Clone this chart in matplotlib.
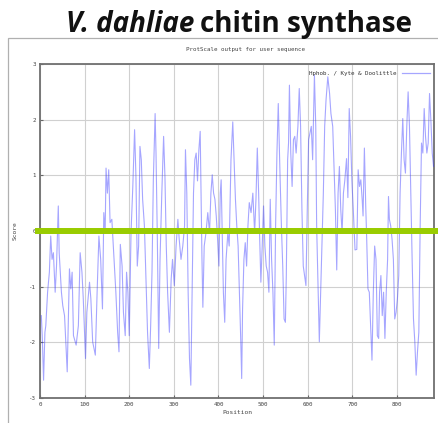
import matplotlib
matplotlib.use("Agg")
import matplotlib.pyplot as plt
from matplotlib.lines import Line2D
from matplotlib.patches import Rectangle
import matplotlib.transforms as mtransforms

# ---- data ----
positions = [3, 5, 8, 11, 13, 17, 21, 24, 27, 30, 34, 37, 41, 43, 48, 51, 55, 61, 66, 69,
             72, 75, 81, 86, 90, 94, 97, 102, 105, 111, 114, 118, 124, 128, 132, 136, 140, 143, 146, 148,
             151, 154, 157, 161, 166, 170, 174, 177, 180, 184, 187, 191, 194, 197, 200, 204, 208, 212, 215, 218,
             221, 224, 227, 230, 234, 238, 241, 245, 248, 251, 254, 258, 260, 263, 266, 269, 273, 277, 280, 283,
             286, 290, 294, 297, 301, 305, 309, 312, 316, 320, 324, 326, 329, 332, 335, 338, 341, 344, 347, 350,
             353, 356, 359, 363, 365, 368, 372, 376, 380, 383, 386, 389, 392, 395, 398, 401, 404, 406, 408, 411,
             414, 417, 421, 424, 428, 432, 435, 438, 441, 444, 447, 450, 452, 454, 457, 460, 463, 466, 469, 473,
             477, 481, 484, 487, 490, 492, 495, 498, 501, 504, 507, 510, 513, 516, 519, 522, 525, 528, 531, 534,
             538, 541, 544, 547, 550, 552, 555, 557, 559, 562, 565, 568, 571, 574, 578, 581, 584, 587, 590, 593,
             596, 599, 602, 605, 608, 611, 615, 618, 620, 623, 626, 629, 632, 635, 638, 641, 645, 649, 652, 656,
             659, 662, 665, 668, 671, 674, 677, 680, 683, 687, 690, 693, 696, 699, 702, 706, 710, 713, 716, 719,
             722, 724, 727, 730, 732, 735, 738, 741, 744, 747, 750, 753, 756, 759, 761, 764, 767, 770, 773, 776,
             779, 781, 783, 786, 789, 792, 795, 798, 801, 804, 807, 810, 813, 816, 819, 822, 825, 828, 831, 834,
             837, 840, 843, 846, 849, 852, 855, 858, 861, 864, 867, 870, 873, 876, 879, 882]
scores = [-1.52, -1.88, -2.68, -1.82, -1.70, -1.10, -0.74, -0.09, -0.51, -0.39, -1.10, -0.63, 0.45, -0.39, -1.10, -1.34, -1.52, -2.53, -0.68, -1.04,
          -0.74, -1.88, -2.05, -1.70, -0.39, -0.74, -1.22, -2.29, -1.46, -0.92, -1.22, -1.99, -2.23, -1.10, -0.09, -0.51, -1.40, 0.33, -0.03, 1.13,
          0.68, 1.10, 0.15, 0.21, -0.51, -1.10, -1.82, -2.17, -0.24, -0.63, -1.46, -1.88, -0.74, -1.10, -1.88, -0.03, 0.80, 1.82, 0.98, -0.63,
          -0.27, 1.52, 1.28, 0.57, 0.09, -0.98, -1.82, -2.47, -1.70, -0.74, 0.92, 2.11, 1.40, -0.15, -2.11, -0.51, 0.68, 1.70, 0.98, -0.27,
          -1.10, -1.82, -0.86, -0.51, -0.98, -0.27, 0.21, -0.15, -0.51, -0.27, 0.09, 1.46, 0.68, -1.10, -2.29, -2.77, -1.10, 0.68, 1.28, 1.40,
          0.90, 1.45, 1.79, -0.51, -1.37, -0.27, -0.03, 0.33, -0.03, 0.68, 1.01, 0.68, 0.57, 0.27, -0.15, -0.63, 0.68, 0.92, 0.09, -1.10,
          -1.64, -0.51, -0.03, -0.27, 1.28, 1.96, 1.28, 0.57, 0.09, -0.27, -1.10, -1.99, -2.65, -1.40, -0.51, -0.21, -0.63, 0.09, 0.51, 0.33,
          0.68, -0.03, 0.57, 1.49, 0.68, -0.03, -0.92, -0.27, 0.45, -0.27, -0.63, -0.74, -1.10, 0.57, -0.51, -1.10, -2.05, 0.09, 1.40, 2.29,
          0.98, 0.09, -0.63, -1.58, -1.64, -0.80, 1.28, 1.58, 2.62, 1.40, 0.80, 1.64, 1.70, 1.40, 1.88, 2.56, 1.88, 0.39, -0.63, -0.80,
          -0.98, 0.39, 1.64, 1.76, 1.88, 1.28, 2.80, 1.88, 0.09, -0.98, -1.99, -1.10, -0.21, 0.68, 1.88, 2.35, 2.77, 2.47, 2.11, 1.88,
          1.16, 0.39, -0.70, 0.68, 1.16, 0.39, -0.03, 0.68, 0.90, 1.30, 0.60, 2.20, 1.70, 0.90, 0.40, -0.34, -0.33, 1.10, 0.80, 0.92,
          0.57, 0.27, 1.49, 0.45, -0.09, -1.04, -1.10, -1.70, -2.32, -1.10, -0.27, -0.51, -1.88, -1.93, -1.10, -0.80, -1.52, -1.10, -1.93, -1.10,
          -0.51, 0.62, 0.21, 0.09, -0.15, -0.51, -1.58, -1.46, -1.22, -0.80, 0.68, 1.40, 2.02, 1.28, 1.04, 1.88, 2.50, 1.88, 0.68, -0.51,
          -1.58, -1.99, -2.59, -2.17, -1.82, 0.09, 1.58, 1.40, 2.20, 1.70, 1.40, 1.58, 2.47, 1.99, 1.40, 1.16]
x_ticks = [0, 100, 200, 300, 400, 500, 600, 700, 800]
y_ticks = [-3, -2, -1, 0, 1, 2, 3]
legend_label = "Hphob. / Kyte & Doolittle"

W, H = 438, 423
fig = plt.figure(figsize=(W / 100, H / 100), dpi=100)
fig.patch.set_facecolor("white")

# outer frame of the embedded ProtScale image
fig.add_artist(Rectangle((8 / W, -0.05), 1.0, 1 - 38 / H + 0.05, transform=fig.transFigure,
                         fill=False, edgecolor="#b0b0b0", lw=0.9))

# main title
ty = 1 - 32 / H
t1 = fig.text(66 / W, ty, "V. dahliae", fontsize=20, fontweight="bold", fontstyle="italic",
              family="Open Sans", va="baseline", ha="left", color="#111111")
fig.canvas.draw()
bb = t1.get_window_extent()
fig.text((bb.x1 + 6) / W, ty, "chitin synthase", fontsize=20, fontweight="bold",
         family="Open Sans", va="baseline", ha="left", color="#111111")

fig.text(245 / W, 1 - 49 / H, "ProtScale output for user sequence", fontsize=4.2,
         family="DejaVu Sans Mono", ha="center", va="center", color="#444444")

ax = fig.add_axes([40 / W, 1 - 398 / H, (434 - 40) / W, (398 - 64) / H])
ax.plot(positions, scores, color="#3a3aff", lw=0.8, alpha=0.45, zorder=3)
ax.set_xlim(0, 883)
ax.set_ylim(-3, 3)
ax.set_xticks(x_ticks)
ax.set_yticks(y_ticks)
ax.set_xticklabels([str(v) for v in x_ticks], fontsize=4.2, family="DejaVu Sans Mono", color="#444444")
ax.set_yticklabels([str(v) for v in y_ticks], fontsize=4.2, family="DejaVu Sans Mono", color="#444444")
ax.tick_params(direction="in", length=2, width=0.8, color="#666666", pad=3)
ax.grid(True, color="#d0d0d0", lw=0.8)
ax.set_axisbelow(True)
for s in ax.spines.values():
    s.set_color("#707070")
    s.set_linewidth(1.3)
ax.set_xlabel("Position", fontsize=4.5, family="DejaVu Sans Mono", color="#444444", labelpad=2)
ax.set_ylabel("Score", fontsize=4.5, family="DejaVu Sans Mono", color="#444444", labelpad=8)

# legend
ax.text(0.905, 0.973, legend_label, transform=ax.transAxes, fontsize=4.2, family="DejaVu Sans Mono",
        ha="right", va="center", color="#333333")
ax.add_line(Line2D([0.92, 0.99], [0.973, 0.973], transform=ax.transAxes, color="#3a3aff", lw=0.9, alpha=0.45))

# green zero line extending past the plot to the image edge
tr = mtransforms.blended_transform_factory(fig.transFigure, ax.transData)
fig.add_artist(Line2D([38 / W, 1.0], [0, 0], transform=tr, color="#99cc00", lw=4.3, zorder=10))

fig.savefig("out.png", dpi=100, facecolor="white")
